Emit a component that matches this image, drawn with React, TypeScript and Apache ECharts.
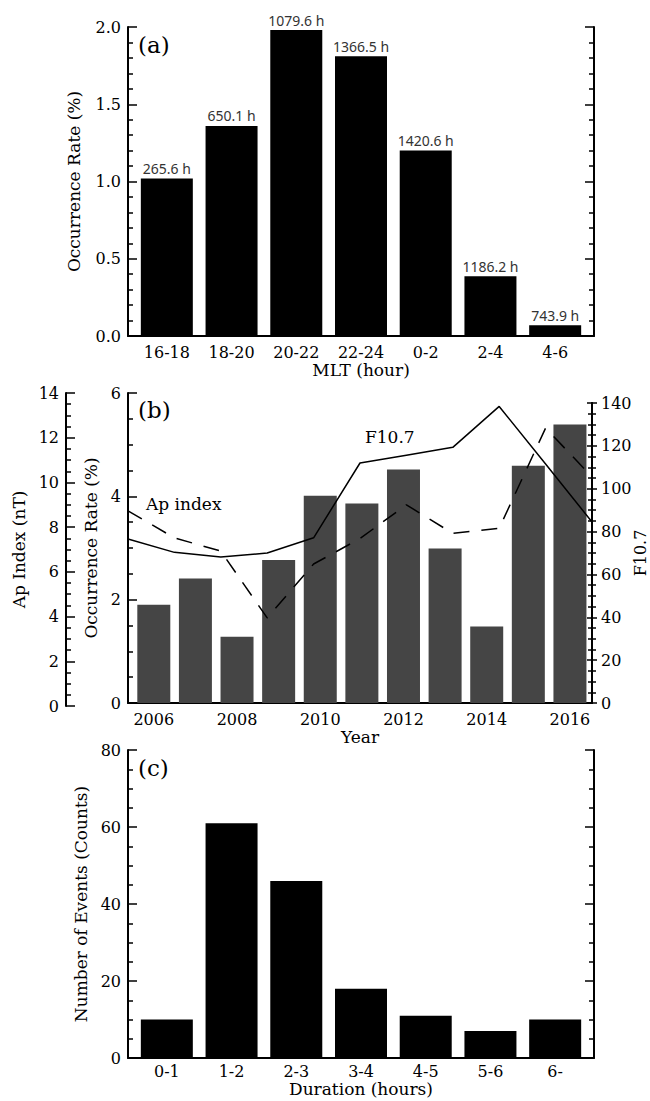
import React, { useEffect, useRef } from 'react';
import * as echarts from 'echarts';

// Panel (a): occurrence rate by MLT sector
const mltCategories = ['16-18', '18-20', '20-22', '22-24', '0-2', '2-4', '4-6'];
const mltRate = [1.02, 1.36, 1.98, 1.81, 1.2, 0.386, 0.069];
const mltHours = ['265.6 h', '650.1 h', '1079.6 h', '1366.5 h', '1420.6 h', '1186.2 h', '743.9 h'];

// Panel (b): yearly occurrence, F10.7 and Ap index
const years = [2006, 2007, 2008, 2009, 2010, 2011, 2012, 2013, 2014, 2015, 2016];
const yearTicks = [2006, 2008, 2010, 2012, 2014, 2016];
const yearRate = [1.9, 2.41, 1.28, 2.77, 4.01, 3.86, 4.52, 2.99, 1.48, 4.59, 5.39];
const f107 = [76.5, 70.3, 68.1, 70.0, 77.1, 112.0, 115.6, 119.3, 138.4, 111.5, 84.5];
const apIndex = [8.73, 7.52, 6.93, 3.94, 6.35, 7.49, 9.0, 7.72, 7.95, 12.43, 10.25];

// Panel (c): event duration histogram
const durationCategories = ['0-1', '1-2', '2-3', '3-4', '4-5', '5-6', '6-'];
const durationCounts = [10, 61, 46, 18, 11, 7, 10];

const serif = 'DejaVu Serif';
const tickLabel = { fontFamily: serif, fontSize: 16, color: '#000' };
const nameText = { fontFamily: serif, fontSize: 17, color: '#000' };
const axisLine = { show: true, onZero: false, lineStyle: { color: '#000', width: 2 } };

function yAxis(o: any) {
  return {
    type: 'value',
    gridIndex: o.grid,
    position: o.position || 'left',
    offset: o.offset || 0,
    min: o.min,
    max: o.max,
    interval: o.interval,
    name: o.name || '',
    nameLocation: 'middle',
    nameGap: o.nameGap || 0,
    nameRotate: 90,
    nameMoveOverlap: o.noMove ? false : undefined,
    nameTextStyle: o.nameSize ? { ...nameText, fontSize: o.nameSize } : nameText,
    axisLine,
    axisTick: { show: true, inside: o.inside !== false, length: o.tickLen || 9, lineStyle: { color: '#000', width: 1.5 } },
    minorTick: { show: true, splitNumber: o.minor, length: o.minorLen || 5, lineStyle: { color: '#000', width: 1.5 } },
    splitLine: { show: false },
    minorSplitLine: { show: false },
    axisLabel: o.hideLabels
      ? { show: false }
      : { ...tickLabel, margin: o.margin || 7, formatter: o.formatter },
  };
}

function catXAxis(grid: number, min: number, max: number, values: number[], fmt: (v: number) => string, name: string, nameGap: number, margin: number) {
  return {
    type: 'value',
    gridIndex: grid,
    min,
    max,
    name,
    nameLocation: 'middle',
    nameGap,
    nameTextStyle: nameText,
    axisLine,
    axisTick: { show: false },
    splitLine: { show: false },
    axisLabel: { ...tickLabel, margin, customValues: values, formatter: fmt },
  };
}

function hiddenX(grid: number) {
  return { type: 'value', gridIndex: grid, min: 0, max: years.length - 1, show: false, axisLine: { onZero: false }, splitLine: { show: false } };
}

function panelText(text: string, x: number, y: number, size: number) {
  return {
    type: 'text',
    x,
    y,
    style: {
      text,
      fontFamily: serif,
      fontSize: size,
      fill: '#000',
      align: 'left',
      verticalAlign: 'middle',
      textAlign: 'left',
      textVerticalAlign: 'middle',
    },
  };
}

const idx = (arr: number[]) => arr.map((v, i) => [i, v]);

const gridBox = (left: number, top: number, width: number, height: number) => ({
  left,
  top,
  width,
  height,
  containLabel: false,
  outerBoundsMode: 'none',
});

const option: any = {
  animation: false,
  backgroundColor: '#fff',
  grid: [
    gridBox(128, 27, 466, 309), // 0 panel a
    gridBox(128, 393, 464, 310), // 1 panel b occurrence
    gridBox(128, 403, 464, 300), // 2 panel b F10.7
    gridBox(128, 393, 464, 313), // 3 panel b Ap
    gridBox(128, 750, 466, 308), // 4 panel c
  ],
  xAxis: [
    catXAxis(0, -0.6, 6.6, mltCategories.map((_, i) => i), (v) => mltCategories[Math.round(v)], 'MLT (hour)', 25, 8),
    catXAxis(1, 2005.38, 2016.53, yearTicks, (v) => String(v), 'Year', 25, 8),
    hiddenX(2),
    hiddenX(3),
    catXAxis(4, -0.6, 6.6, durationCategories.map((_, i) => i), (v) => durationCategories[Math.round(v)], 'Duration (hours)', 22, 5),
  ],
  yAxis: [
    yAxis({ grid: 0, min: 0, max: 2, interval: 0.5, minor: 5, name: 'Occurrence Rate (%)', nameGap: 46, formatter: (v: number) => v.toFixed(1) }),
    yAxis({ grid: 0, position: 'right', min: 0, max: 2, interval: 0.5, minor: 5, hideLabels: true }),
    yAxis({ grid: 1, min: 0, max: 6, interval: 2, minor: 4, name: 'Occurrence Rate (%)', nameGap: 28 }),
    yAxis({ grid: 2, position: 'right', min: 0, max: 140, interval: 20, minor: 4, inside: false, tickLen: 5, minorLen: 4, name: 'F10.7', nameGap: 40, nameSize: 16, noMove: true, margin: 9 }),
    yAxis({ grid: 2, position: 'right', min: 0, max: 140, interval: 20, minor: 4, tickLen: 5, minorLen: 4, hideLabels: true }),
    yAxis({ grid: 3, offset: 62, min: 0, max: 14, interval: 2, minor: 4, name: 'Ap Index (nT)', nameGap: 31 }),
    yAxis({ grid: 4, min: 0, max: 80, interval: 20, minor: 4, name: 'Number of Events (Counts)', nameGap: 35 }),
    yAxis({ grid: 4, position: 'right', min: 0, max: 80, interval: 20, minor: 4, hideLabels: true }),
  ],
  series: [
    {
      type: 'bar',
      xAxisIndex: 0,
      yAxisIndex: 0,
      data: idx(mltRate),
      barWidth: 52,
      itemStyle: { color: '#000' },
      label: {
        show: true,
        position: 'top',
        distance: 3,
        fontFamily: 'Noto Sans',
        fontSize: 14,
        color: '#333',
        formatter: (p: any) => mltHours[p.dataIndex],
      },
    },
    {
      type: 'bar',
      xAxisIndex: 1,
      yAxisIndex: 2,
      data: years.map((y, i) => [y, yearRate[i]]),
      barWidth: 33,
      itemStyle: { color: '#454545' },
    },
    {
      type: 'line',
      xAxisIndex: 2,
      yAxisIndex: 3,
      data: idx(f107),
      symbol: 'none',
      lineStyle: { color: '#000', width: 1.5 },
    },
    {
      type: 'line',
      xAxisIndex: 3,
      yAxisIndex: 5,
      data: idx(apIndex),
      symbol: 'none',
      lineStyle: { color: '#000', width: 1.5, type: [16, 12] },
    },
    {
      type: 'bar',
      xAxisIndex: 4,
      yAxisIndex: 6,
      data: idx(durationCounts),
      barWidth: 52,
      itemStyle: { color: '#000' },
    },
  ],
  graphic: [
    panelText('(a)', 138, 45, 23),
    panelText('(b)', 138, 410, 23),
    panelText('(c)', 138, 768, 23),
    panelText('Ap index', 146, 504, 17),
    panelText('F10.7', 365, 437, 17),
  ],
};

export default function App() {
  const ref = useRef<HTMLDivElement>(null);
  useEffect(() => {
    const chart = echarts.init(ref.current!, null, { renderer: 'svg' });
    chart.setOption(option);
    return () => chart.dispose();
  }, []);
  return (
    <div
      ref={ref}
      style={{ position: 'fixed', left: 0, top: 0, width: 650, height: 1101, background: '#fff' }}
    />
  );
}
